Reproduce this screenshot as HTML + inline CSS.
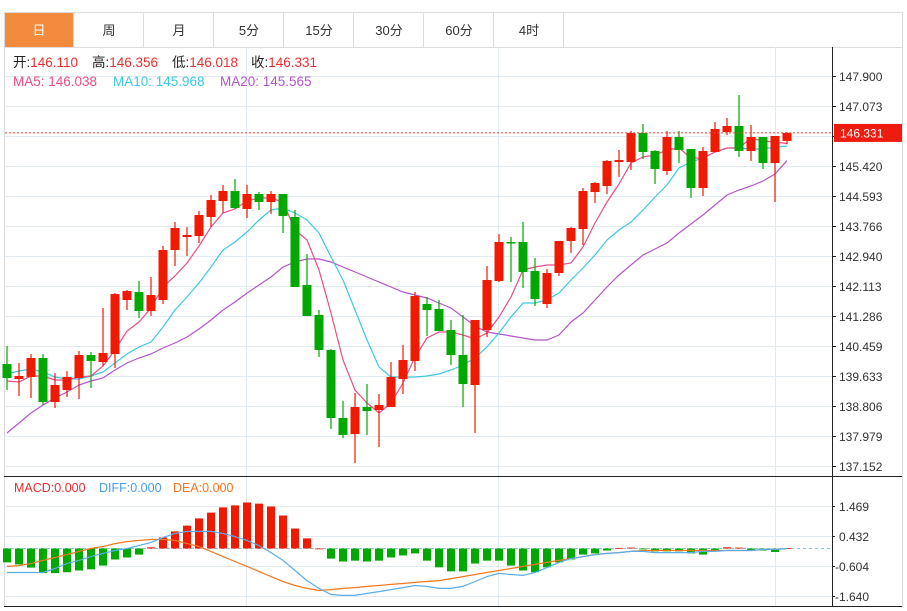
<!DOCTYPE html>
<html><head><meta charset="utf-8">
<style>
html,body{margin:0;padding:0;background:#fff;}
body{width:907px;height:611px;overflow:hidden;font-family:"Liberation Sans","Noto Sans CJK SC",sans-serif;}
svg{position:absolute;left:0;top:0;}
svg text{font-family:"Liberation Sans","Noto Sans CJK SC",sans-serif;}
</style></head>
<body>
<svg id="chart" width="907" height="611">
  <g id="tabs"></g>
  <g id="grid"></g>
  <g id="ma"></g>
  <g id="candles"></g>
  <g id="macd"></g>
  <g id="axis"></g>
</svg>
<script>
const tabLabels = ['日','周','月','5分','15分','30分','60分','4时'];
const priceTicks = [147.900,147.073,146.246,145.420,144.593,143.766,142.940,142.113,141.286,140.459,139.633,138.806,137.979,137.152];
const macdTicks = [1.469,0.432,-0.604,-1.640];
const opens = [139.960,139.547,139.602,140.126,138.913,139.244,139.575,140.208,140.015,140.236,141.725,141.945,141.422,141.725,143.103,143.462,143.489,144.013,144.454,144.730,144.234,144.647,144.426,144.647,144.013,142.138,141.312,140.346,138.472,138.030,138.775,138.693,138.775,139.547,140.043,141.615,141.477,140.898,140.208,139.382,140.898,142.249,143.324,143.324,142.524,141.615,142.469,143.351,143.682,144.702,144.868,145.529,145.529,146.329,145.832,145.281,146.218,145.888,144.813,145.805,146.356,146.522,145.832,146.218,145.502,146.110];
const highs = [140.456,139.988,140.236,140.236,139.712,139.767,140.319,140.291,141.504,141.918,142.001,142.249,142.359,143.214,143.876,143.737,144.178,144.619,144.895,145.061,144.895,144.702,144.730,144.647,144.206,142.993,141.449,140.374,138.941,139.161,139.409,139.134,140.015,140.484,141.945,141.808,141.725,141.174,141.312,141.174,142.662,143.544,143.462,143.876,142.883,142.579,143.351,143.737,144.813,144.978,145.584,145.860,146.384,146.577,145.860,146.384,146.384,145.888,145.943,146.632,146.742,147.376,146.549,146.218,146.246,146.356];
const lows = [139.244,139.078,139.023,138.830,138.748,139.051,138.996,139.299,139.905,139.850,141.449,141.229,141.284,141.615,142.662,142.938,143.296,143.737,144.123,144.234,143.985,144.206,144.096,143.572,142.083,141.284,140.153,138.168,137.920,137.231,138.003,137.672,138.775,139.134,139.767,140.732,140.870,139.933,138.775,138.058,140.705,142.221,142.221,142.056,141.559,141.504,142.386,143.020,143.241,144.399,144.647,145.116,145.309,145.612,144.923,145.171,145.502,144.537,144.592,145.805,146.273,145.667,145.557,145.336,144.426,146.018];
const closes = [139.575,139.630,140.126,138.913,139.382,139.602,140.208,140.043,140.264,141.890,141.973,141.422,141.863,143.103,143.710,143.517,144.068,144.482,144.730,144.261,144.647,144.426,144.647,144.040,142.083,141.284,140.346,138.472,138.003,138.775,138.665,138.830,139.602,140.071,141.835,141.449,140.870,140.208,139.409,141.174,142.276,143.324,143.296,142.497,141.752,142.469,143.351,143.710,144.730,144.950,145.557,145.584,146.329,145.805,145.336,146.218,145.860,144.813,145.832,146.439,146.522,145.832,146.218,145.502,146.246,146.331];
const ma5 = [139.492,139.464,139.630,139.630,139.519,139.519,139.602,139.630,139.905,140.346,140.870,141.119,141.504,142.083,142.386,142.745,143.214,143.737,144.123,144.234,144.454,144.537,144.537,144.426,143.655,143.379,142.552,141.367,140.071,139.244,138.885,138.610,138.885,139.437,140.153,140.677,140.843,140.843,140.760,140.650,140.815,141.256,141.808,142.552,142.635,142.690,142.690,142.745,143.186,143.848,144.426,144.923,145.502,145.667,145.722,145.860,145.915,145.639,145.639,145.805,145.915,145.915,146.191,146.108,146.081,146.038];
const ma10 = [139.685,139.767,139.823,139.740,139.602,139.547,139.547,139.630,139.740,139.988,140.236,140.429,140.567,140.980,141.449,141.808,142.193,142.635,143.103,143.324,143.600,143.930,144.206,144.261,144.123,143.930,143.572,142.910,142.276,141.449,140.622,139.878,139.602,139.602,139.602,139.630,139.685,139.795,139.933,140.126,140.429,140.815,141.256,141.642,141.642,141.725,141.918,142.276,142.607,142.965,143.379,143.655,143.876,144.206,144.564,144.895,145.364,145.529,145.639,145.805,145.915,145.915,145.888,145.888,145.943,145.968];
const ma20 = [138.058,138.334,138.610,138.830,139.023,139.189,139.382,139.492,139.575,139.795,139.988,140.126,140.236,140.401,140.539,140.705,140.925,141.174,141.449,141.670,141.918,142.138,142.359,142.635,142.772,142.855,142.855,142.772,142.635,142.497,142.359,142.221,142.083,141.945,141.863,141.780,141.642,141.504,141.256,141.008,140.843,140.787,140.732,140.677,140.622,140.622,140.760,141.119,141.367,141.725,142.083,142.414,142.690,142.965,143.131,143.296,143.572,143.820,144.068,144.344,144.619,144.757,144.868,145.006,145.199,145.565];
const macdHist = [-0.48,-0.55,-0.66,-0.85,-0.85,-0.82,-0.76,-0.72,-0.59,-0.38,-0.31,-0.21,0.04,0.38,0.59,0.79,1.04,1.24,1.42,1.49,1.59,1.55,1.45,1.14,0.69,0.35,0.0,-0.35,-0.45,-0.42,-0.45,-0.42,-0.31,-0.24,-0.17,-0.42,-0.65,-0.79,-0.79,-0.52,-0.42,-0.42,-0.59,-0.76,-0.82,-0.65,-0.48,-0.38,-0.21,-0.17,-0.07,0.02,0.03,-0.03,-0.10,-0.10,-0.10,-0.17,-0.21,-0.07,0.04,0.03,-0.05,-0.07,-0.12,0.01];
const diff = [-0.83,-0.83,-0.83,-0.83,-0.69,-0.52,-0.41,-0.28,-0.17,-0.07,0.0,0.10,0.21,0.38,0.52,0.59,0.59,0.59,0.52,0.41,0.28,0.10,-0.14,-0.41,-0.76,-1.11,-1.38,-1.59,-1.62,-1.62,-1.55,-1.49,-1.42,-1.35,-1.28,-1.31,-1.38,-1.38,-1.31,-1.14,-0.97,-0.86,-0.90,-0.93,-0.83,-0.66,-0.48,-0.35,-0.28,-0.21,-0.17,-0.14,-0.10,-0.10,-0.14,-0.14,-0.14,-0.14,-0.10,-0.10,-0.07,-0.07,-0.07,-0.03,-0.03,0.0];
const dea = [-0.62,-0.59,-0.52,-0.41,-0.31,-0.21,-0.10,0.0,0.07,0.17,0.24,0.28,0.31,0.31,0.28,0.17,0.07,-0.10,-0.28,-0.45,-0.62,-0.79,-0.97,-1.14,-1.28,-1.38,-1.45,-1.42,-1.38,-1.35,-1.31,-1.28,-1.24,-1.21,-1.17,-1.14,-1.11,-1.04,-0.97,-0.90,-0.83,-0.76,-0.69,-0.62,-0.55,-0.48,-0.41,-0.35,-0.28,-0.21,-0.17,-0.14,-0.10,-0.07,-0.07,-0.07,-0.07,-0.07,-0.07,-0.07,-0.07,-0.07,-0.07,-0.03,-0.03,0.0];

const NS='http://www.w3.org/2000/svg';
function mk(parent, tag, attrs, text){
  const e=document.createElementNS(NS,tag);
  for(const k in attrs) e.setAttribute(k,attrs[k]);
  if(text!==undefined) e.textContent=text;
  parent.appendChild(e); return e;
}
const yP = v => 76 + (147.900 - v) / 0.827 * 30;
const yM = v => 548.5 - v / 1.0365 * 30;
const xI = i => 7 + i * 12;
const RED='#f01a00', GREEN='#00a800';

const tabs=document.getElementById('tabs');
mk(tabs,'line',{x1:4,y1:12.5,x2:903,y2:12.5,stroke:'#dcdcdc'});
mk(tabs,'line',{x1:4,y1:47.5,x2:903,y2:47.5,stroke:'#dcdcdc'});
tabLabels.forEach((t,i)=>{
  const g=mk(tabs,'g',{});
  
  
  const x=4+i*70;
  if(i===0) mk(g,'rect',{x:4,y:13,width:69,height:34,fill:'#f38b3f'});
  mk(g,'line',{x1:x+69.5,y1:12,x2:x+69.5,y2:47,stroke:'#dcdcdc'});
  mk(g,'text',{x:x+35,y:35,'font-size':13,'text-anchor':'middle',fill:i===0?'#fff':'#333'},t);
});
mk(tabs,'line',{x1:4.5,y1:12,x2:4.5,y2:607,stroke:'#dcdcdc'});
mk(tabs,'line',{x1:902.5,y1:12,x2:902.5,y2:607,stroke:'#dcdcdc'});

const grid=document.getElementById('grid');
priceTicks.forEach(v=>{ mk(grid,'line',{x1:5,y1:Math.round(yP(v))+0.5,x2:832,y2:Math.round(yP(v))+0.5,stroke:'#e3ebf2'}); });
macdTicks.forEach(v=>{ mk(grid,'line',{x1:5,y1:Math.round(yM(v))+0.5,x2:832,y2:Math.round(yM(v))+0.5,stroke:'#e3ebf2'}); });
[246.5,498.5,775.5].forEach(x=>{ mk(grid,'line',{x1:x,y1:47,x2:x,y2:606,stroke:'#e3ebf2'}); });
mk(grid,'line',{x1:4,y1:476.5,x2:902,y2:476.5,stroke:'#222'});
mk(grid,'line',{x1:4,y1:606.5,x2:902,y2:606.5,stroke:'#222'});

const maG=document.getElementById('ma');
function poly(parent, arr, yf, color, name){
  const pts=arr.map((v,i)=>xI(i)+','+yf(v).toFixed(1)).join(' ');
  const p=mk(parent,'polyline',{points:pts,fill:'none',stroke:color,'stroke-width':1.2});
  
  
}
poly(maG, ma20, yP, '#b455cc', 'ma20-line');
poly(maG, ma10, yP, '#3cc8e0', 'ma10-line');
poly(maG, ma5, yP, '#ea4d88', 'ma5-line');

const cg=document.getElementById('candles');
opens.forEach((o,i)=>{
  const c=closes[i], up=c>=o, col=up?RED:GREEN, x=xI(i);
  const g=mk(cg,'g',{});
  
  
  mk(g,'line',{x1:x,y1:yP(highs[i]),x2:x,y2:yP(lows[i]),stroke:col,'stroke-width':1.2});
  const t=yP(Math.max(o,c)), b=yP(Math.min(o,c));
  mk(g,'rect',{x:x-4.5,y:t,width:9,height:Math.max(1.5,b-t),fill:col});
});

const last=closes[closes.length-1];
mk(cg,'line',{x1:5,y1:yP(last),x2:832,y2:yP(last),stroke:'#f04040','stroke-dasharray':'2,2','stroke-width':1});

const mg=document.getElementById('macd');
mk(mg,'line',{x1:5,y1:yM(0),x2:832,y2:yM(0),stroke:'#7cc8ec','stroke-dasharray':'3,3','stroke-width':1});
macdHist.forEach((v,i)=>{
  const r=mk(mg,'rect',{x:xI(i)-4,y:Math.min(yM(0),yM(v)),width:8,height:Math.max(0.8,Math.abs(yM(v)-yM(0))),fill:v>=0?RED:GREEN});
  
  
});
poly(mg, dea, yM, '#f07820', 'dea-line');
poly(mg, diff, yM, '#5aaee8', 'diff-line');

const ax=document.getElementById('axis');
mk(ax,'line',{x1:832.5,y1:47,x2:832.5,y2:607,stroke:'#222'});
priceTicks.forEach(v=>{
  const y=Math.round(yP(v))+0.5;
  mk(ax,'line',{x1:832,y1:y,x2:836,y2:y,stroke:'#222'});
  const t=mk(ax,'text',{x:839,y:y+4.5,'font-size':12,fill:'#333'},v.toFixed(3));
  
  
});
macdTicks.forEach(v=>{
  const y=Math.round(yM(v))+0.5;
  mk(ax,'line',{x1:832,y1:y,x2:835,y2:y,stroke:'#222'});
  const t=mk(ax,'text',{x:v<0?835:839,y:y+4.5,'font-size':12,fill:'#333'},v.toFixed(3));
  
  
});
const lb=mk(ax,'g',{});


mk(lb,'rect',{x:834,y:yP(last)-9,width:68,height:18,fill:'#ee1c0e'});
mk(lb,'text',{x:840,y:yP(last)+4.5,'font-size':12,fill:'#fff'},last.toFixed(3));
</script>
<svg width="907" height="611" style="pointer-events:none">
  <g font-size="13.5">
    <text x="13" y="67" fill="#222">开:<tspan fill="#e8302f">146.110</tspan></text>
    <text x="92" y="67" fill="#222">高:<tspan fill="#e8302f">146.356</tspan></text>
    <text x="172" y="67" fill="#222">低:<tspan fill="#e8302f">146.018</tspan></text>
    <text x="251" y="67" fill="#222">收:<tspan fill="#e8302f">146.331</tspan></text>
  </g>
  <g font-size="13.5">
    <text x="13" y="86" fill="#ea4d88">MA5: 146.038</text>
    <text x="113" y="86" fill="#3cc8e0">MA10: 145.968</text>
    <text x="220" y="86" fill="#b455cc">MA20: 145.565</text>
  </g>
  <g font-size="12.5">
    <text x="14" y="492" fill="#e8302f">MACD:0.000</text>
    <text x="99" y="492" fill="#4a9ee8">DIFF:0.000</text>
    <text x="173" y="492" fill="#f07820">DEA:0.000</text>
  </g>
</svg>
</body></html>
